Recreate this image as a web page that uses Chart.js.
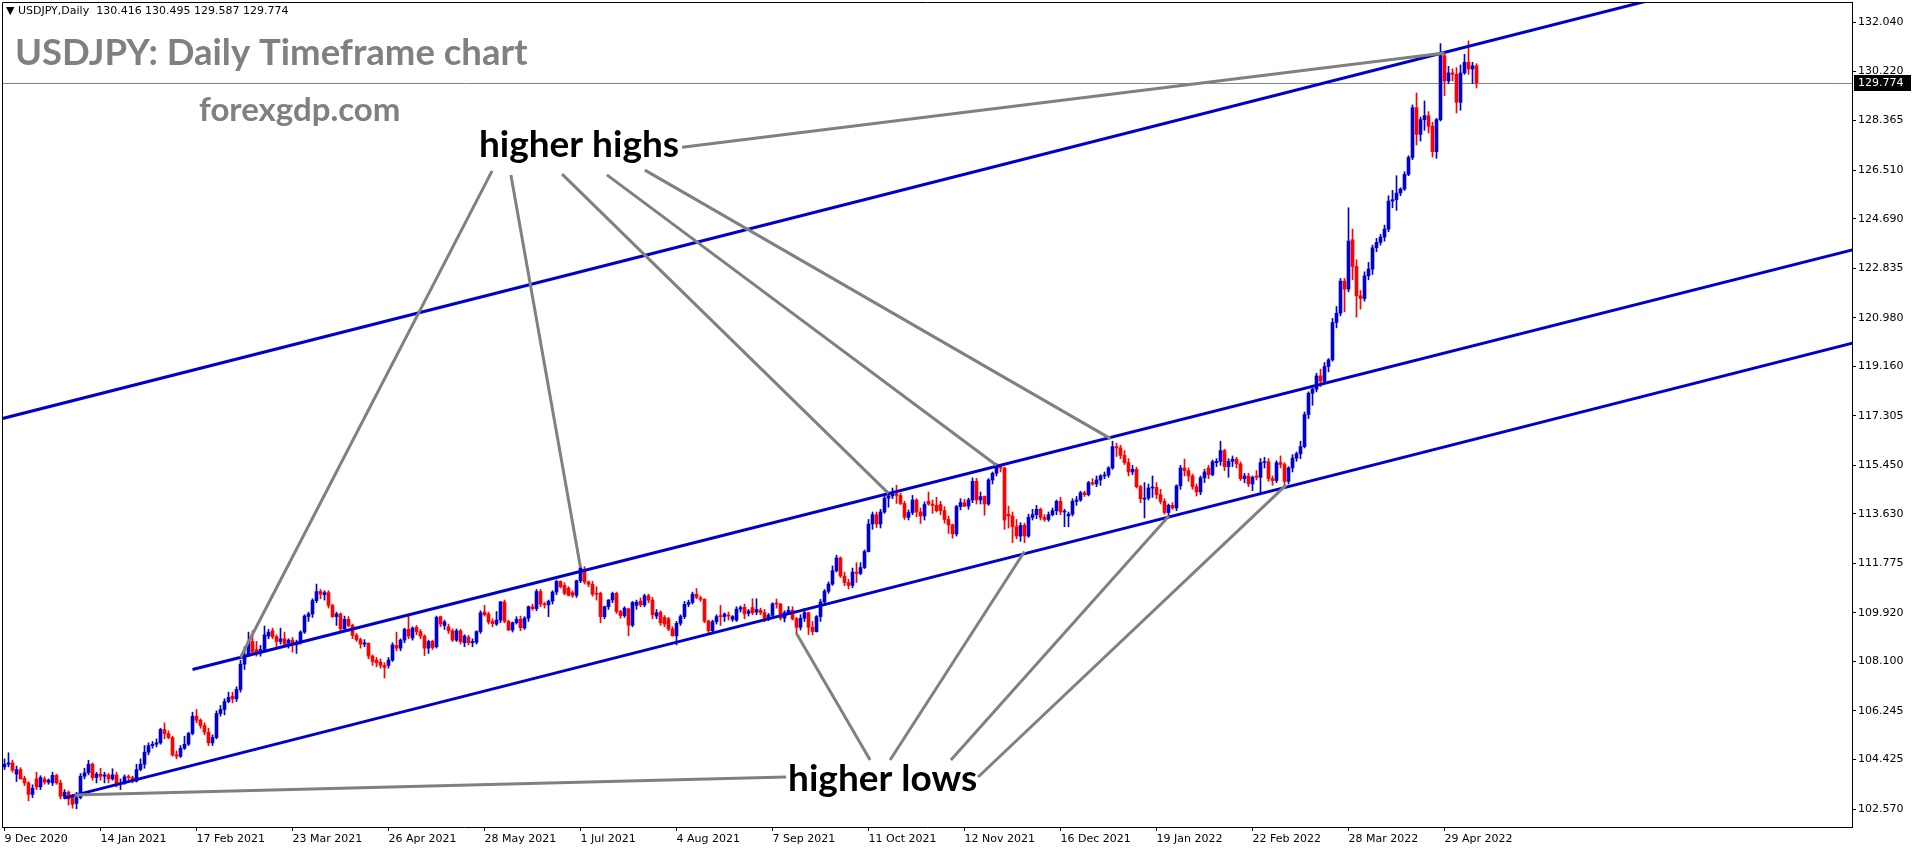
<!DOCTYPE html>
<html>
<head>
<meta charset="utf-8">
<title>USDJPY Daily</title>
<script src="https://cdn.jsdelivr.net/npm/chart.js@4.4.1/dist/chart.umd.min.js"></script>
<style>
  html, body { margin: 0; padding: 0; background: #fff; }
  canvas { display: block; }
</style>
</head>
<body>
<canvas id="usdjpyChart" width="1916" height="850"></canvas>
<script>
// daily candles, 9 Dec 2020 .. 11 May 2022 (one entry per bar)
const opens = [
  104.15,104.25,104.30,103.88,104.05,103.72,103.55,103.12,103.70,103.40,
  103.70,103.58,103.55,103.83,103.55,103.05,103.20,103.05,102.78,103.00,
  103.80,103.93,104.25,103.75,103.88,103.80,103.85,103.70,103.85,103.50,
  103.55,103.78,103.75,103.62,104.05,104.25,104.70,104.95,105.00,105.05,
  105.55,105.40,105.25,104.60,104.55,104.85,105.00,105.40,106.05,105.90,
  105.70,105.45,105.05,105.25,106.15,106.30,106.60,106.80,106.70,107.05,
  108.00,108.35,108.85,108.55,108.42,108.55,109.05,109.25,109.03,108.85,
  108.95,108.78,108.90,108.72,108.84,109.20,109.78,109.88,110.38,110.72,
  110.60,110.68,110.20,109.78,109.88,109.32,109.68,109.45,109.08,108.92,
  108.75,108.78,108.30,108.15,108.08,107.95,107.95,108.15,108.70,108.60,
  108.90,109.30,108.98,109.38,109.22,109.05,108.60,108.85,108.65,109.78,
  109.45,109.40,109.25,108.90,109.25,108.80,109.00,108.80,108.82,109.22,
  109.95,109.88,109.60,109.50,109.65,110.33,109.60,109.28,109.55,109.68,
  109.36,109.72,110.15,110.08,110.72,110.25,110.22,110.36,110.70,111.10,
  110.95,110.85,110.68,110.58,111.12,111.55,111.08,110.99,110.65,110.65,
  109.78,110.15,110.40,110.65,109.97,109.82,110.07,109.46,110.20,110.36,
  110.22,110.56,110.40,109.80,109.94,109.75,109.70,109.32,109.06,109.53,
  109.78,110.24,110.31,110.62,110.48,110.43,109.61,109.25,109.59,109.80,
  109.78,109.84,109.68,109.65,110.06,110.13,109.90,110.12,109.95,110.02,
  109.93,109.71,109.83,110.26,110.25,109.72,109.93,110.02,109.70,109.38,
  109.72,109.93,109.38,109.22,109.78,110.33,110.73,111.00,111.50,111.98,
  111.30,111.06,110.95,111.45,111.40,111.62,112.22,113.25,113.60,113.25,
  113.70,114.22,114.30,114.38,114.32,114.02,113.50,113.68,114.15,113.70,
  113.55,114.10,114.00,113.95,113.98,113.75,113.42,113.22,112.88,113.90,
  114.05,113.92,114.15,114.85,114.15,114.28,114.00,114.90,115.15,115.40,
  115.35,113.62,113.55,113.15,112.80,113.20,112.80,113.50,113.60,113.80,
  113.50,113.42,113.60,113.75,114.10,113.70,113.55,113.62,114.10,114.15,
  114.42,114.35,114.80,114.75,114.90,115.05,115.08,115.35,116.15,116.10,
  115.82,115.55,115.20,115.30,114.65,114.18,114.22,114.60,114.62,114.35,
  114.10,113.68,113.95,113.85,114.68,115.35,115.25,115.05,114.65,114.45,
  114.98,115.35,115.10,115.55,115.60,116.00,115.40,115.60,115.68,115.50,
  114.95,115.05,114.75,115.05,115.00,115.55,115.58,114.95,114.88,115.55,
  115.48,114.85,115.35,115.72,115.88,116.15,117.35,118.15,118.30,118.80,
  118.60,119.15,119.40,120.80,121.15,122.35,122.05,123.90,122.90,121.80,
  121.70,122.55,122.80,123.60,123.80,124.00,124.30,125.35,125.40,125.65,
  125.80,126.35,126.98,128.85,127.85,128.40,128.55,128.15,127.20,128.40,
  130.80,129.85,130.15,130.10,129.05,130.15,130.55,130.30,130.416
];
const highs = [
  104.45,104.68,104.40,104.18,104.12,103.80,103.60,103.48,103.95,103.82,
  103.78,103.70,103.95,103.88,103.65,103.30,103.25,103.12,103.20,103.90,
  104.10,104.40,104.30,103.95,104.10,103.95,103.90,104.08,103.95,103.70,
  103.85,103.85,103.80,104.25,104.45,104.95,105.05,105.10,105.20,105.60,
  105.80,105.50,105.30,104.75,104.95,105.30,105.45,106.20,106.30,105.95,
  105.80,105.60,105.35,106.25,106.45,106.70,106.95,106.95,107.15,108.15,
  108.65,109.20,109.25,108.85,108.70,109.43,109.30,109.35,109.10,109.35,
  109.20,108.95,109.00,108.90,109.25,109.85,109.95,110.45,111.00,110.80,
  110.75,110.75,110.25,109.95,109.92,109.80,109.78,109.50,109.15,108.98,
  108.92,108.80,108.35,108.25,108.20,108.05,108.25,108.80,109.20,108.95,
  109.35,109.80,109.40,109.45,109.30,109.10,108.90,108.90,109.80,109.80,
  109.65,109.50,109.32,109.32,109.30,109.10,109.08,108.95,109.25,110.00,
  110.20,109.95,109.70,109.97,110.35,110.40,109.65,109.58,109.78,109.80,
  109.78,110.18,110.25,110.80,110.80,110.32,110.40,110.75,111.15,111.12,
  111.05,110.90,110.75,111.15,111.65,111.65,111.12,111.10,110.90,110.70,
  110.18,110.42,110.70,110.70,110.02,110.15,110.10,110.35,110.40,110.48,
  110.62,110.62,110.50,110.05,110.00,109.82,109.75,109.40,109.60,109.85,
  110.35,110.40,110.70,110.83,110.55,110.45,109.65,109.65,109.85,110.20,
  109.92,109.95,109.82,110.15,110.18,110.25,110.05,110.45,110.45,110.10,
  110.05,109.90,110.30,110.44,110.28,110.00,110.16,110.15,109.75,109.85,
  110.08,109.95,109.60,109.82,110.43,110.80,111.08,111.68,112.08,112.02,
  111.45,111.18,111.60,111.80,111.80,112.28,113.42,113.70,113.70,113.80,
  114.30,114.45,114.60,114.70,114.40,114.10,113.78,114.32,114.20,113.85,
  114.08,114.45,114.15,114.25,114.10,113.90,113.55,113.25,113.95,114.20,
  114.18,114.22,114.98,114.96,114.45,114.30,114.95,115.20,115.52,115.48,
  115.38,113.92,113.70,113.42,113.30,113.28,113.62,113.80,113.95,113.85,
  113.60,113.70,113.85,114.15,114.25,113.80,113.70,114.20,114.28,114.48,
  114.48,114.85,114.95,115.05,115.10,115.20,115.40,116.35,116.28,116.20,
  116.00,115.70,115.45,115.38,114.70,114.80,114.75,115.05,114.80,114.55,
  114.20,114.00,114.05,114.72,115.45,115.68,115.35,115.12,114.75,115.05,
  115.30,115.45,115.65,115.70,116.35,116.05,115.70,115.80,115.75,115.58,
  115.15,115.15,115.05,115.25,115.70,115.75,115.70,115.05,115.62,115.80,
  115.55,115.40,115.85,115.95,116.35,117.45,118.20,118.45,118.90,119.05,
  119.30,119.45,120.95,121.40,122.45,122.45,125.10,124.30,123.15,122.00,
  122.70,123.05,123.70,123.95,124.10,124.45,125.55,125.75,126.30,125.85,
  126.45,127.05,128.95,129.40,128.50,129.10,128.70,128.30,128.45,131.25,
  130.90,130.40,130.30,130.35,130.45,130.85,131.35,130.55,130.495
];
const lows = [
  104.05,104.15,103.95,103.60,103.70,103.45,102.88,103.00,103.30,103.30,
  103.50,103.50,103.45,103.50,102.95,102.98,102.72,102.60,102.58,102.95,
  103.70,103.85,103.65,103.55,103.65,103.55,103.55,103.65,103.40,103.30,
  103.50,103.65,103.55,103.58,104.00,104.10,104.60,104.85,104.90,105.00,
  105.20,105.20,104.55,104.45,104.50,104.80,104.95,105.35,105.80,105.60,
  105.35,104.95,104.95,105.20,106.05,106.10,106.55,106.55,106.60,106.95,
  107.80,108.30,108.35,108.30,108.30,108.50,108.95,108.95,108.65,108.75,
  108.70,108.60,108.45,108.40,108.75,109.15,109.60,109.75,110.30,110.45,
  110.40,110.10,109.75,109.45,109.25,109.25,109.40,108.95,108.85,108.60,
  108.65,108.20,107.95,107.90,107.85,107.48,107.85,108.10,108.50,108.50,
  108.80,108.95,108.90,109.10,108.95,108.32,108.40,108.55,108.60,109.40,
  109.30,109.15,108.85,108.85,108.75,108.65,108.72,108.65,108.75,109.15,
  109.80,109.50,109.40,109.45,109.55,109.55,109.25,109.20,109.50,109.25,
  109.30,109.60,110.02,110.00,110.15,110.10,109.78,110.25,110.60,110.85,
  110.60,110.55,110.50,110.50,111.05,111.00,110.90,110.55,110.40,109.55,
  109.70,110.05,110.30,109.90,109.72,109.75,109.06,109.40,110.05,110.15,
  110.15,110.30,109.70,109.70,109.45,109.40,109.25,109.05,108.72,109.45,
  109.70,110.15,110.25,110.45,110.35,109.55,109.10,109.20,109.50,109.45,
  109.60,109.65,109.60,109.60,109.95,109.70,109.80,109.85,109.85,109.85,
  109.59,109.63,109.78,110.10,109.65,109.58,109.88,109.65,109.12,109.28,
  109.60,109.11,109.10,109.20,109.60,110.20,110.65,110.95,111.45,111.25,
  110.94,110.82,110.86,111.06,111.35,111.58,112.20,113.05,113.12,113.10,
  113.65,113.88,114.20,114.02,113.98,113.42,113.40,113.60,113.52,113.27,
  113.40,113.95,113.65,113.70,113.60,113.28,112.90,112.72,112.80,113.78,
  113.90,113.80,114.05,114.00,114.00,113.58,113.95,114.75,115.05,115.20,
  113.05,113.10,112.55,112.70,112.60,112.55,112.75,113.40,113.45,113.40,
  113.35,113.35,113.55,113.60,113.60,113.15,113.15,113.55,113.95,114.10,
  114.28,114.30,114.70,114.65,114.70,114.95,115.00,115.30,115.78,115.70,
  115.48,115.05,115.10,114.60,114.05,113.48,114.15,114.25,114.20,114.00,
  113.62,113.45,113.80,113.75,114.55,115.05,114.85,114.55,114.30,114.35,
  114.80,114.95,115.05,115.40,115.45,115.25,115.00,115.40,115.35,114.88,
  114.80,114.65,114.50,114.90,114.40,115.35,114.85,114.70,114.80,115.35,
  114.65,114.75,115.20,115.60,115.70,116.10,117.20,117.70,118.20,118.40,
  118.55,118.95,119.35,120.60,121.05,121.20,121.95,122.40,121.00,121.30,
  121.60,122.40,122.60,123.45,123.70,123.85,124.20,125.10,125.00,125.55,
  125.75,126.30,126.90,127.45,127.60,128.00,127.90,127.00,126.95,128.35,
  129.30,129.75,129.85,128.65,128.75,130.10,130.10,129.75,129.587
];
const closes = [
  104.25,104.30,104.03,104.05,103.70,103.55,103.12,103.35,103.40,103.75,
  103.58,103.65,103.83,103.55,103.05,103.20,102.95,102.75,103.00,103.80,
  103.93,104.25,103.75,103.88,103.80,103.85,103.70,103.85,103.50,103.55,
  103.78,103.75,103.62,104.05,104.25,104.70,104.95,105.00,105.05,105.55,
  105.40,105.25,104.60,104.55,104.85,105.00,105.40,106.05,105.90,105.70,
  105.45,105.05,105.25,106.15,106.30,106.60,106.75,106.70,107.05,108.00,
  108.35,108.85,108.45,108.45,108.55,109.10,109.20,109.03,108.85,108.95,
  108.75,108.90,108.78,108.78,109.20,109.80,109.88,110.38,110.72,110.62,
  110.68,110.20,109.78,109.88,109.32,109.68,109.45,109.08,108.92,108.75,
  108.80,108.30,108.10,108.05,107.95,107.88,108.15,108.72,108.60,108.90,
  109.30,109.05,109.35,109.22,109.05,108.60,108.85,108.62,109.75,109.50,
  109.58,109.25,108.90,109.25,108.84,109.05,108.80,108.85,109.22,109.92,
  109.85,109.58,109.52,109.65,110.33,109.60,109.28,109.55,109.68,109.36,
  109.72,110.15,110.08,110.72,110.25,110.22,110.36,110.70,111.10,110.90,
  110.65,110.58,110.58,111.12,111.60,111.08,110.99,110.62,110.62,109.78,
  110.15,110.40,110.65,109.97,109.82,110.10,109.46,110.31,110.32,110.22,
  110.56,110.40,109.85,109.93,109.55,109.50,109.32,109.06,109.53,109.78,
  110.24,110.31,110.62,110.50,110.43,109.61,109.25,109.59,109.78,109.78,
  109.88,109.80,109.78,110.06,110.12,109.88,109.99,109.92,110.05,109.93,
  109.71,109.83,110.26,110.25,109.72,109.93,110.02,109.70,109.38,109.72,
  109.93,109.38,109.22,109.78,110.33,110.73,111.00,111.50,111.98,111.30,
  111.06,110.95,111.45,111.40,111.62,112.22,113.25,113.60,113.25,113.70,
  114.22,114.30,114.38,114.32,114.02,113.50,113.68,114.15,113.70,113.55,
  113.98,114.00,113.95,113.75,113.75,113.42,113.22,112.88,113.90,114.05,
  113.92,114.15,114.85,114.15,114.28,114.00,114.90,115.15,115.40,115.35,
  113.40,113.55,113.15,112.80,113.20,112.80,113.50,113.60,113.80,113.50,
  113.42,113.60,113.75,114.10,113.70,113.72,113.62,114.10,114.15,114.42,
  114.35,114.80,114.75,114.90,115.05,115.08,115.35,116.15,116.10,115.82,
  115.55,115.20,115.30,114.65,114.20,114.22,114.60,114.62,114.35,114.10,
  113.68,113.95,113.85,114.68,115.35,115.25,115.05,114.65,114.45,114.98,
  115.20,115.10,115.58,115.60,116.00,115.40,115.60,115.68,115.50,114.95,
  115.05,114.75,115.00,115.00,115.55,115.58,114.95,114.88,115.55,115.48,
  114.85,115.35,115.72,115.88,116.15,117.35,118.15,118.30,118.80,118.60,
  119.15,119.40,120.80,121.15,122.35,122.05,123.85,122.90,121.80,121.70,
  122.55,122.80,123.60,123.80,124.00,124.30,125.35,125.40,125.65,125.80,
  126.35,126.98,128.85,127.85,128.40,128.55,128.15,127.20,128.40,130.80,
  129.85,130.15,130.10,129.05,130.15,130.55,130.30,130.42,129.774
];

// axis labels: bar index of each date label, and the price grid
const dateTicks = [0, 24, 48, 72, 96, 120, 144, 168, 192, 216, 240, 264, 288, 312, 336, 360];
const dateLabels = ["9 Dec 2020", "14 Jan 2021", "17 Feb 2021", "23 Mar 2021", "26 Apr 2021",
  "28 May 2021", "1 Jul 2021", "4 Aug 2021", "7 Sep 2021", "11 Oct 2021", "12 Nov 2021",
  "16 Dec 2021", "19 Jan 2022", "22 Feb 2022", "28 Mar 2022", "29 Apr 2022"];
const priceTicks = [132.040, 130.220, 128.365, 126.510, 124.690, 122.835, 120.980, 119.160,
  117.305, 115.450, 113.630, 111.775, 109.920, 108.100, 106.245, 104.425, 102.570];

// trend channel, [bar, price] anchors
const channelFrom = [[-1.125, 117.18], [47, 107.80], [14.75, 102.98]];
const channelTo = [[462, 134.80], [462, 123.52], [462, 120.03]];

// annotation pointers, [bar, price]
const highsFrom = [[121.9, 126.48], [126.6, 126.33], [139.4, 126.36], [150.6, 126.33], [160.1, 126.51], [169.4, 127.37]];
const highsTo = [[59, 108.25], [144, 111.62], [221, 114.40], [248, 115.45], [276.5, 116.45], [360, 130.90]];
const lowsFrom = [[195.4, 103.77], [216.4, 104.41], [221.4, 104.41], [236.6, 104.41], [243.4, 103.77]];
const lowsTo = [[17.5, 103.10], [198, 109.15], [255, 112.22], [291.1, 113.55], [320.4, 114.71]];
const noteText = ["higher highs", "higher lows"];
const noteAt = [[118.6, 127.0], [195.9, 103.25]];

const BULL = "#0000d0";
const BEAR = "#ff0000";
const last = opens.length - 1;
const bid = closes[last];

const candleColors = closes.map((c, i) => (c >= opens[i] ? BULL : BEAR));
const wickData = opens.map((_, i) => ({ x: i, y: [lows[i], highs[i]] }));
const bodyData = opens.map((_, i) => ({ x: i, y: [opens[i], closes[i]] }));

function segment(from, to, color, order) {
  return {
    type: "line",
    data: [{ x: from[0], y: from[1] }, { x: to[0], y: to[1] }],
    borderColor: color,
    borderWidth: 3,
    pointRadius: 0,
    fill: false,
    order: order,
  };
}

const channelSets = channelFrom.map((f, k) => segment(f, channelTo[k], "#0000cd", 2));
const pointerSets = highsFrom.map((f, k) => segment(f, highsTo[k], "#808080", 1))
  .concat(lowsFrom.map((f, k) => segment(f, lowsTo[k], "#808080", 1)));

const overlay = {
  id: "overlay",
  beforeDatasetsDraw(chart) {
    const { ctx, chartArea: a, scales } = chart;
    const py = Math.round(scales.y.getPixelForValue(bid)) + 0.5;
    ctx.save();
    ctx.strokeStyle = "#778899";
    ctx.lineWidth = 1;
    ctx.beginPath();
    ctx.moveTo(a.left, py);
    ctx.lineTo(a.right, py);
    ctx.stroke();
    ctx.restore();
  },
  afterDraw(chart) {
    const { ctx, chartArea: a, scales } = chart;
    ctx.save();
    // frame left / top
    ctx.strokeStyle = "#000";
    ctx.lineWidth = 1;
    ctx.beginPath();
    ctx.moveTo(a.left + 0.5, a.bottom);
    ctx.lineTo(a.left + 0.5, a.top + 0.5);
    ctx.lineTo(a.right, a.top + 0.5);
    ctx.stroke();

    // header
    ctx.fillStyle = "#000";
    ctx.font = "11px 'DejaVu Sans'";
    ctx.textBaseline = "alphabetic";
    ctx.textAlign = "left";
    const ohlc = [opens[last], highs[last], lows[last], closes[last]].map(v => v.toFixed(3)).join(" ");
    ctx.fillText("\u25BC USDJPY,Daily  " + ohlc, 6, 14);

    // title + watermark
    ctx.fillStyle = "#808080";
    ctx.font = "bold 36.5px Lato";
    ctx.fillText("USDJPY: Daily Timeframe chart", 15, 65);
    ctx.font = "bold 33px Lato";
    ctx.fillText("forexgdp.com", 199, 121);

    // notes
    ctx.fillStyle = "#000";
    ctx.font = "bold 37px Lato";
    noteText.forEach((t, k) => {
      ctx.fillText(t, scales.x.getPixelForValue(noteAt[k][0]), scales.y.getPixelForValue(noteAt[k][1]));
    });

    // bid price box
    const py = Math.round(scales.y.getPixelForValue(bid));
    ctx.fillStyle = "#000";
    ctx.fillRect(a.right + 2, py - 8, 57, 16);
    ctx.fillStyle = "#fff";
    ctx.font = "11px 'DejaVu Sans'";
    ctx.textBaseline = "middle";
    ctx.fillText(bid.toFixed(3), a.right + 6, py + 0.5);
    ctx.restore();
  },
};

Chart.defaults.font.family = "'DejaVu Sans'";
Chart.defaults.font.size = 11;
Chart.defaults.color = "#000";

new Chart(document.getElementById("usdjpyChart"), {
  type: "bar",
  data: {
    datasets: [
      {
        data: wickData,
        backgroundColor: candleColors,
        barThickness: 1,
        grouped: false,
        order: 4,
      },
      {
        data: bodyData,
        backgroundColor: candleColors,
        barThickness: 3,
        minBarLength: 1,
        grouped: false,
        order: 3,
      },
      ...channelSets,
      ...pointerSets,
    ],
  },
  options: {
    responsive: false,
    devicePixelRatio: 1,
    animation: false,
    layout: { padding: { left: 2, top: 2, right: 0, bottom: 0 } },
    scales: {
      x: {
        type: "linear",
        offset: false,
        min: -0.625,
        max: 461.875,
        afterBuildTicks: (s) => { s.ticks = dateTicks.map((v) => ({ value: v })); },
        afterFit: (s) => {
          s.height = 23;
          s.paddingLeft = 0;
          s.paddingRight = 0;
        },
        grid: { offset: false, drawOnChartArea: false, drawTicks: true, tickLength: 4, color: "#000" },
        border: { display: true, color: "#000" },
        ticks: {
          align: "start",
          autoSkip: false,
          maxRotation: 0,
          minRotation: 0,
          padding: 2,
          callback: (v) => dateLabels[dateTicks.indexOf(v)] ?? "",
        },
      },
      y: {
        position: "right",
        min: 101.898,
        max: 132.808,
        afterBuildTicks: (s) => { s.ticks = priceTicks.map((v) => ({ value: v })); },
        afterFit: (s) => {
          s.width = 64;
          s.paddingTop = 0;
          s.paddingBottom = 0;
        },
        grid: { drawOnChartArea: false, drawTicks: true, tickLength: 4, color: "#000" },
        border: { display: true, color: "#000" },
        ticks: {
          padding: 2,
          callback: (v) => v.toFixed(3),
        },
      },
    },
    plugins: {
      legend: { display: false },
      tooltip: { enabled: false },
    },
  },
  plugins: [overlay],
});
</script>
</body>
</html>
